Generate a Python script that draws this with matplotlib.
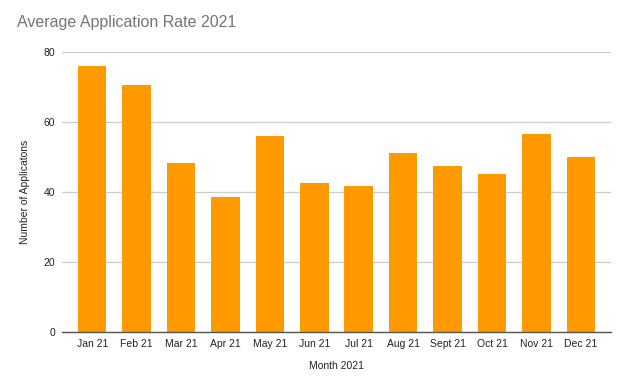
import matplotlib
matplotlib.use("Agg")
import matplotlib.pyplot as plt

months = ["Jan 21", "Feb 21", "Mar 21", "Apr 21", "May 21", "Jun 21",
          "Jul 21", "Aug 21", "Sept 21", "Oct 21", "Nov 21", "Dec 21"]
applications = [76.1, 70.7, 48.4, 38.7, 55.9, 42.5, 41.6, 51.1, 47.5, 45.2, 56.7, 50.1]
y_ticks = [0, 20, 40, 60, 80]

plt.rcParams['font.family'] = ['Liberation Sans', 'DejaVu Sans']

fig = plt.figure(figsize=(6.26, 3.84), dpi=100)
ax = fig.add_axes([62/626, 52/384, (611-62)/626, 280/384])

x = list(range(len(months)))
ax.bar(x, applications, width=0.64, color="#ff9900", zorder=3)

ax.set_xlim(-0.68, 11.68)
ax.set_ylim(0, 80)
ax.set_yticks(y_ticks)
ax.set_xticks(x)
ax.set_xticklabels(months)
ax.tick_params(axis='both', length=0, labelsize=7.5, labelcolor="#222222")
ax.tick_params(axis='x', pad=5)
ax.tick_params(axis='y', pad=5)
ax.grid(axis='y', color="#cccccc", linewidth=0.9, zorder=0)
for s in ['top', 'right', 'left']:
    ax.spines[s].set_visible(False)
ax.spines['bottom'].set_color("#555555")
ax.spines['bottom'].set_linewidth(1.0)
ax.spines['bottom'].set_zorder(4)

ax.set_xlabel("Month 2021", fontsize=7.5, color="#222222", labelpad=9)
ax.set_ylabel("Number of Applicatons", fontsize=7.5, color="#222222", labelpad=10)

fig.text(17/626, 1 - 23/384, "Average Application Rate 2021", fontsize=11.5,
         color="#757575", ha="left", va="center")

fig.savefig("out.png", dpi=100, facecolor="white")
